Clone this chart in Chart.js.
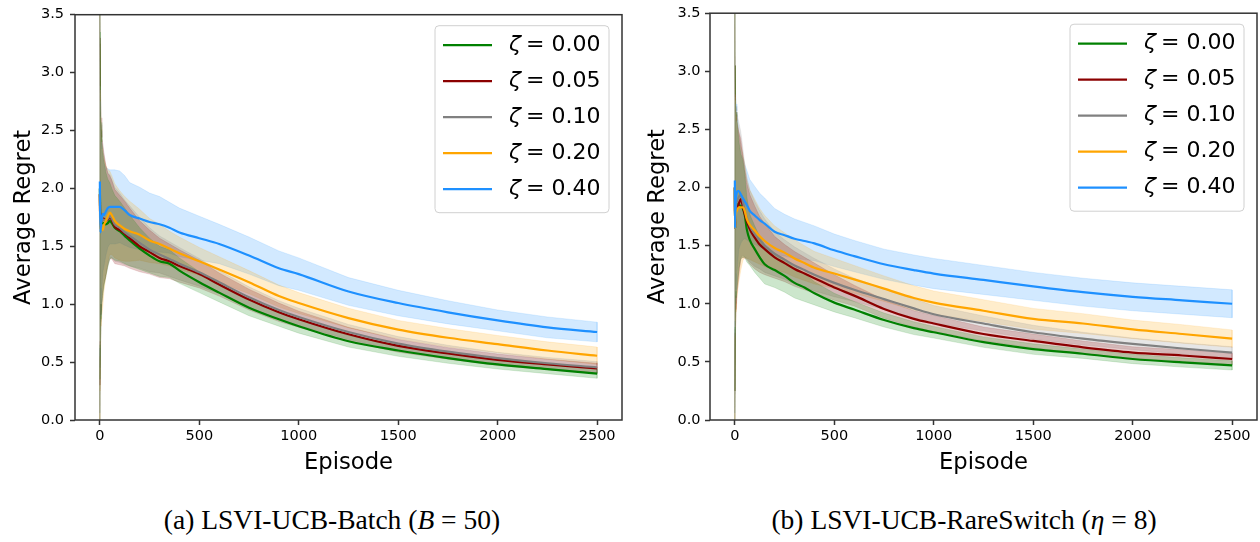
<!DOCTYPE html>
<html>
<head>
<meta charset="utf-8">
<script src="https://cdn.jsdelivr.net/npm/chart.js@4.4.1/dist/chart.umd.min.js"></script>
<style>
    html, body { margin: 0; padding: 0; background: #fff; }
    body { width: 1260px; height: 542px; position: relative; overflow: hidden; }
    .panel { position: absolute; top: 0; width: 630px; height: 480px; }
    #panelA { left: 0; }
    #panelB { left: 630px; }
    .caption {
        position: absolute; top: 504px; transform: translateX(-50%);
        font-family: 'Liberation Serif', serif; font-size: 27.5px; color: #000; white-space: nowrap;
    }
</style>
</head>
<body>
<div class="panel" id="panelA"><canvas id="batchChart" width="630" height="480"></canvas></div>
<div class="panel" id="panelB"><canvas id="rareChart" width="630" height="480"></canvas></div>
<div class="caption" style="left:332px">(a) LSVI-UCB-Batch (<i>B</i> = 50)</div>
<div class="caption" style="left:964px">(b) LSVI-UCB-RareSwitch (<i>η</i> = 8)</div>
<script>
const episodes = [0, 1, 3, 6, 10, 15, 20, 30, 40, 50, 60, 75, 100, 125, 150, 200, 250, 300, 350, 400, 500, 600, 750, 900, 1000, 1250, 1500, 1750, 2000, 2250, 2500];
const zetaLabels = ['0.00', '0.05', '0.10', '0.20', '0.40'];
const xTicks = [0, 500, 1000, 1500, 2000, 2500];
const yTicks = [0, 0.5, 1, 1.5, 2, 2.5, 3, 3.5];

// (a) LSVI-UCB-Batch (B = 50) - mean average regret
const batchMean000 = [2.00, 1.85, 1.75, 1.72, 1.70, 1.70, 1.70, 1.69, 1.70, 1.72, 1.70, 1.66, 1.63, 1.59, 1.55, 1.48, 1.42, 1.37, 1.35, 1.29, 1.19, 1.10, 0.97, 0.87, 0.81, 0.68, 0.60, 0.535, 0.48, 0.44, 0.40];
const batchMean005 = [1.95, 1.80, 1.78, 1.76, 1.72, 1.74, 1.74, 1.72, 1.73, 1.75, 1.73, 1.67, 1.64, 1.61, 1.57, 1.50, 1.45, 1.40, 1.37, 1.33, 1.26, 1.17, 1.04, 0.93, 0.87, 0.74, 0.64, 0.575, 0.52, 0.48, 0.445];
const batchMean010 = [1.95, 1.80, 1.72, 1.70, 1.72, 1.73, 1.73, 1.72, 1.74, 1.76, 1.74, 1.69, 1.66, 1.62, 1.59, 1.53, 1.47, 1.43, 1.39, 1.35, 1.275, 1.19, 1.06, 0.95, 0.89, 0.76, 0.66, 0.59, 0.535, 0.49, 0.455];
const batchMean020 = [1.95, 1.75, 1.65, 1.66, 1.65, 1.64, 1.68, 1.72, 1.76, 1.79, 1.77, 1.72, 1.68, 1.65, 1.63, 1.60, 1.55, 1.52, 1.48, 1.44, 1.37, 1.30, 1.19, 1.07, 1.01, 0.88, 0.78, 0.71, 0.655, 0.60, 0.555];
const batchMean040 = [2.06, 1.85, 1.62, 1.70, 1.74, 1.78, 1.77, 1.80, 1.83, 1.84, 1.84, 1.84, 1.84, 1.81, 1.77, 1.74, 1.71, 1.69, 1.66, 1.62, 1.57, 1.52, 1.42, 1.31, 1.26, 1.11, 1.01, 0.93, 0.86, 0.80, 0.76];
// spread of the shaded band
const batchStd000 = [2.0, 1.5, 1.1, 0.85, 0.7, 0.62, 0.55, 0.45, 0.38, 0.33, 0.30, 0.28, 0.26, 0.24, 0.22, 0.18, 0.15, 0.13, 0.12, 0.11, 0.09, 0.08, 0.07, 0.06, 0.06, 0.05, 0.05, 0.045, 0.04, 0.04, 0.04];
const batchStd005 = [2.0, 1.5, 1.1, 0.85, 0.72, 0.64, 0.57, 0.48, 0.40, 0.36, 0.34, 0.32, 0.30, 0.28, 0.26, 0.22, 0.19, 0.17, 0.15, 0.14, 0.12, 0.10, 0.09, 0.08, 0.07, 0.06, 0.055, 0.05, 0.05, 0.045, 0.045];
const batchStd010 = [2.0, 1.5, 1.1, 0.85, 0.72, 0.64, 0.57, 0.48, 0.40, 0.36, 0.34, 0.32, 0.30, 0.28, 0.26, 0.22, 0.19, 0.16, 0.15, 0.14, 0.12, 0.10, 0.09, 0.08, 0.075, 0.065, 0.06, 0.055, 0.05, 0.05, 0.05];
const batchStd020 = [2.0, 1.5, 1.1, 0.85, 0.75, 0.66, 0.58, 0.48, 0.40, 0.36, 0.34, 0.32, 0.30, 0.28, 0.26, 0.22, 0.19, 0.17, 0.15, 0.14, 0.12, 0.11, 0.10, 0.095, 0.09, 0.085, 0.08, 0.08, 0.075, 0.075, 0.075];
const batchStd040 = [2.0, 1.4, 1.0, 0.8, 0.6, 0.5, 0.45, 0.38, 0.34, 0.32, 0.32, 0.32, 0.31, 0.30, 0.28, 0.27, 0.25, 0.24, 0.22, 0.21, 0.19, 0.17, 0.16, 0.15, 0.14, 0.12, 0.11, 0.10, 0.09, 0.09, 0.085];

// (b) LSVI-UCB-RareSwitch (eta = 8)
const rareMean000 = [2.00, 1.65, 1.80, 1.85, 1.86, 1.85, 1.85, 1.84, 1.82, 1.76, 1.64, 1.55, 1.47, 1.40, 1.34, 1.29, 1.24, 1.18, 1.14, 1.09, 1.01, 0.95, 0.86, 0.79, 0.755, 0.67, 0.61, 0.57, 0.525, 0.495, 0.47];
const rareMean005 = [2.00, 1.65, 1.75, 1.80, 1.82, 1.84, 1.86, 1.90, 1.84, 1.77, 1.71, 1.64, 1.57, 1.51, 1.47, 1.40, 1.35, 1.30, 1.26, 1.22, 1.14, 1.07, 0.955, 0.87, 0.83, 0.74, 0.68, 0.625, 0.58, 0.555, 0.525];
const rareMean010 = [2.00, 1.65, 1.78, 1.85, 1.88, 1.90, 1.92, 1.94, 1.88, 1.80, 1.74, 1.67, 1.60, 1.55, 1.50, 1.43, 1.38, 1.33, 1.29, 1.25, 1.18, 1.12, 1.04, 0.96, 0.91, 0.83, 0.755, 0.70, 0.655, 0.615, 0.58];
const rareMean020 = [2.00, 1.65, 1.72, 1.78, 1.80, 1.82, 1.83, 1.83, 1.83, 1.80, 1.73, 1.68, 1.63, 1.58, 1.54, 1.48, 1.44, 1.39, 1.35, 1.31, 1.26, 1.21, 1.13, 1.05, 1.01, 0.94, 0.87, 0.83, 0.78, 0.74, 0.70];
const rareMean040 = [2.06, 1.65, 1.85, 1.92, 1.96, 1.97, 1.97, 1.94, 1.91, 1.88, 1.85, 1.80, 1.76, 1.72, 1.69, 1.62, 1.59, 1.56, 1.54, 1.52, 1.46, 1.41, 1.34, 1.29, 1.26, 1.205, 1.15, 1.10, 1.06, 1.03, 1.00];
const rareStd000 = [2.0, 1.4, 1.0, 0.8, 0.75, 0.65, 0.55, 0.45, 0.42, 0.36, 0.28, 0.22, 0.20, 0.18, 0.17, 0.15, 0.14, 0.13, 0.12, 0.10, 0.08, 0.07, 0.06, 0.055, 0.05, 0.045, 0.045, 0.04, 0.04, 0.04, 0.04];
const rareStd005 = [2.0, 1.4, 1.0, 0.85, 0.75, 0.68, 0.62, 0.52, 0.44, 0.38, 0.33, 0.30, 0.27, 0.24, 0.22, 0.18, 0.16, 0.15, 0.14, 0.13, 0.11, 0.09, 0.08, 0.07, 0.07, 0.06, 0.06, 0.055, 0.05, 0.05, 0.05];
const rareStd010 = [2.0, 1.4, 1.0, 0.85, 0.78, 0.70, 0.64, 0.54, 0.46, 0.40, 0.35, 0.31, 0.28, 0.25, 0.23, 0.19, 0.17, 0.16, 0.15, 0.14, 0.12, 0.10, 0.09, 0.08, 0.075, 0.065, 0.06, 0.055, 0.05, 0.05, 0.05];
const rareStd020 = [2.0, 1.4, 1.0, 0.85, 0.78, 0.70, 0.64, 0.54, 0.46, 0.40, 0.34, 0.30, 0.27, 0.24, 0.22, 0.19, 0.17, 0.16, 0.15, 0.14, 0.13, 0.12, 0.11, 0.105, 0.10, 0.095, 0.09, 0.085, 0.08, 0.08, 0.075];
const rareStd040 = [2.0, 1.4, 1.0, 0.8, 0.7, 0.6, 0.5, 0.42, 0.36, 0.32, 0.30, 0.27, 0.25, 0.23, 0.22, 0.20, 0.18, 0.17, 0.16, 0.15, 0.14, 0.135, 0.13, 0.13, 0.13, 0.125, 0.12, 0.12, 0.12, 0.12, 0.12];

const seriesColors = ['#008000', '#8b0000', '#808080', '#ffa500', '#1e90ff'];

Chart.defaults.font.family = '"DejaVu Sans", sans-serif';
Chart.defaults.color = '#000';

const withAlpha = (hex, a) => {
    const n = parseInt(hex.slice(1), 16);
    return `rgba(${n >> 16}, ${(n >> 8) & 255}, ${n & 255}, ${a})`;
};

// band = closed polygon: upper edge forward, lower edge back, then close at episode 0
const buildDatasets = (means, stds) => {
    const bands = means.map((mean, i) => {
        const upper = episodes.map((x, j) => ({ x, y: mean[j] + stds[i][j] }));
        const lower = episodes.map((x, j) => ({ x, y: mean[j] - stds[i][j] })).reverse();
        return {
            data: [...upper, ...lower, upper[0]],
            fill: 'shape',
            backgroundColor: withAlpha(seriesColors[i], 0.2),
            borderColor: withAlpha(seriesColors[i], 0.13),
            borderWidth: 1,
            pointRadius: 0,
            tension: 0,
            order: 1
        };
    });
    const lines = means.map((mean, i) => ({
        zeta: zetaLabels[i],
        data: episodes.map((x, j) => ({ x, y: mean[j] })),
        borderColor: seriesColors[i],
        borderWidth: 2.2,
        pointRadius: 0,
        fill: false,
        cubicInterpolationMode: 'monotone',
        order: -i // later series on top
    }));
    return bands.concat(lines);
};

const frameAndLegend = {
    id: 'frameAndLegend',
    afterDraw(chart) {
        const { ctx, chartArea: a } = chart;
        ctx.save();
        ctx.strokeStyle = '#333';
        ctx.lineWidth = 1.5;
        ctx.strokeRect(a.left, a.top, a.right - a.left, a.bottom - a.top);

        const w = 174, h = 187;
        const bx = a.right - 13 - w, by = a.top + 11;
        ctx.beginPath();
        ctx.roundRect(bx, by, w, h, 4);
        ctx.fillStyle = 'rgba(255, 255, 255, 0.8)';
        ctx.fill();
        ctx.strokeStyle = '#d0d0d0';
        ctx.lineWidth = 1;
        ctx.stroke();

        chart.data.datasets.filter(d => d.zeta).forEach((d, i) => {
            const y = by + 19.5 + 36 * i;
            ctx.strokeStyle = d.borderColor;
            ctx.lineWidth = 2.2;
            ctx.beginPath();
            ctx.moveTo(bx + 8, y);
            ctx.lineTo(bx + 57, y);
            ctx.stroke();
            ctx.fillStyle = '#000';
            ctx.textBaseline = 'middle';
            ctx.font = 'italic 22px "DejaVu Sans"';
            ctx.fillText('ζ', bx + 74, y);
            ctx.font = '22px "DejaVu Sans"';
            ctx.fillText('= ' + d.zeta, bx + 91, y);
        });
        ctx.restore();
    }
};

const makeChart = (canvasId, means, stds, yAxisWidth, padRight, titlePad, labelPad) => {
    const canvas = document.getElementById(canvasId);
    if (!canvas) {
        console.error('Canvas not found: ' + canvasId);
        return;
    }
    new Chart(canvas, {
        type: 'line',
        data: { datasets: buildDatasets(means, stds) },
        options: {
            responsive: false,
            animation: false,
            devicePixelRatio: 1,
            layout: { padding: { top: 13, right: padRight, left: 0, bottom: 0 } },
            plugins: { legend: { display: false }, tooltip: { enabled: false } },
            scales: {
                x: {
                    type: 'linear',
                    min: -125,
                    max: 2625,
                    afterBuildTicks: s => { s.ticks = xTicks.map(v => ({ value: v })); },
                    afterFit: s => { s.height = 60; },
                    ticks: { font: { size: 14.5 }, color: '#000', padding: 3, maxRotation: 0, autoSkip: false, callback: v => String(v) },
                    grid: { drawOnChartArea: false, tickLength: 5, color: '#333', tickColor: '#333', tickWidth: 1.5 },
                    border: { display: false },
                    title: { display: true, text: 'Episode', font: { size: 22.7 }, color: '#000', padding: { top: 0, bottom: 3 } }
                },
                y: {
                    type: 'linear',
                    min: 0,
                    max: 3.5,
                    afterBuildTicks: s => { s.ticks = yTicks.map(v => ({ value: v })); },
                    afterFit: s => { s.width = yAxisWidth; },
                    ticks: { font: { size: 14.5 }, color: '#000', padding: labelPad, autoSkip: false, callback: v => v.toFixed(1) },
                    grid: { drawOnChartArea: false, tickLength: 5, color: '#333', tickColor: '#333', tickWidth: 1.5 },
                    border: { display: false },
                    title: { display: true, text: 'Average Regret', font: { size: 22.7 }, color: '#000', padding: { top: titlePad, bottom: 0 } }
                }
            }
        },
        plugins: [frameAndLegend]
    });
};

makeChart('batchChart',
    [batchMean000, batchMean005, batchMean010, batchMean020, batchMean040],
    [batchStd000, batchStd005, batchStd010, batchStd020, batchStd040],
    75, 8, 10, 6);
makeChart('rareChart',
    [rareMean000, rareMean005, rareMean010, rareMean020, rareMean040],
    [rareStd000, rareStd005, rareStd010, rareStd020, rareStd040],
    80, 3, 14, 4.5);
</script>
</body>
</html>
